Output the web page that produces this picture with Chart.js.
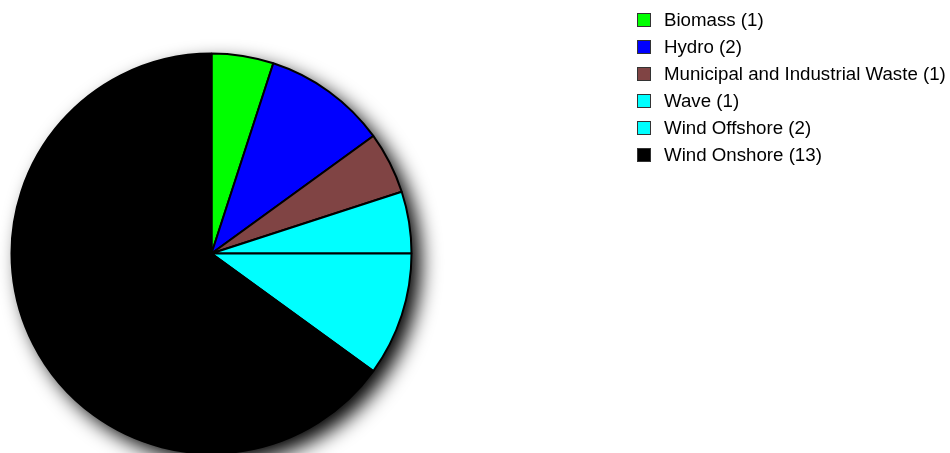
<!DOCTYPE html>
<html>
<head>
<meta charset="utf-8">
<script src="https://cdn.jsdelivr.net/npm/chart.js@4/dist/chart.umd.min.js"></script>
<style>
  html, body { margin: 0; padding: 0; background: #fff; overflow: hidden; }
  #wrap { position: relative; width: 950px; height: 453px; }
  #legend { position: absolute; left: 637px; top: 6px; font-family: Arial, "Liberation Sans", sans-serif; font-size: 18.7px; color: #000; }
  #legend .row { height: 27px; display: flex; align-items: center; white-space: nowrap; }
  #legend .box { width: 12px; height: 12px; border: 1px solid #333; margin-right: 13px; flex: none; }
</style>
</head>
<body>
<div id="wrap">
  <canvas id="pie" width="950" height="453"></canvas>
  <div id="legend"></div>
</div>
<script>
// Projetos por fonte de energia
const categories = ['Biomass', 'Hydro', 'Municipal and Industrial Waste', 'Wave', 'Wind Offshore', 'Wind Onshore'];
const counts = [1, 2, 1, 1, 2, 13];
const colors = ['#00ff00', '#0000ff', '#804444', '#00ffff', '#00ffff', '#000000'];

// Sombra atrás da pizza
const pieShadow = {
  id: 'pieShadow',
  beforeDatasetsDraw(chart) {
    const arc = chart.getDatasetMeta(0).data[0];
    if (!arc) return;
    const ctx = chart.ctx;
    ctx.save();
    ctx.shadowColor = 'rgba(0,0,0,1)';
    ctx.shadowBlur = 20;
    ctx.shadowOffsetX = 9;
    ctx.shadowOffsetY = 9;
    ctx.fillStyle = '#000';
    ctx.beginPath();
    ctx.arc(arc.x, arc.y, arc.outerRadius, 0, Math.PI * 2);
    ctx.fill();
    ctx.restore();
  }
};

const chart = new Chart(document.getElementById('pie'), {
  type: 'pie',
  data: {
    labels: categories,
    datasets: [{
      data: counts,
      backgroundColor: colors,
      borderColor: '#000',
      borderWidth: 2
    }]
  },
  options: {
    responsive: false,
    animation: false,
    radius: 200,
    layout: { padding: { left: 10, right: 537, top: 54, bottom: 0 } },
    plugins: {
      legend: { display: false },
      tooltip: { enabled: false }
    }
  },
  plugins: [pieShadow]
});

// Legenda em HTML
const legend = document.getElementById('legend');
categories.forEach((name, i) => {
  const row = document.createElement('div');
  row.className = 'row';
  const box = document.createElement('span');
  box.className = 'box';
  box.style.background = colors[i];
  const label = document.createElement('span');
  label.textContent = `${name} (${counts[i]})`;
  row.appendChild(box);
  row.appendChild(label);
  legend.appendChild(row);
});
</script>
</body>
</html>
